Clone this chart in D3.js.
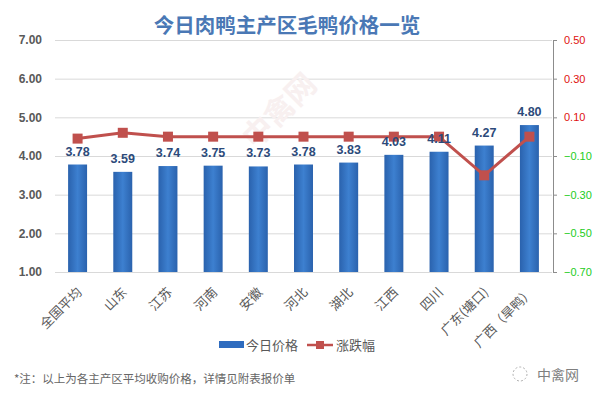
<!DOCTYPE html>
<html>
<head>
<meta charset="utf-8">
<script src="https://cdn.jsdelivr.net/npm/d3@7"></script>
<style>
  body { margin: 0; background: #fff; }
  text { font-family: "Microsoft YaHei", "Noto Sans CJK SC", sans-serif; }
</style>
</head>
<body>
<div id="canvas"></div>
<script>
const regions = ['全国平均','山东','江苏','河南','安徽','河北','湖北','江西','四川','广东(塘口)','广西（旱鸭）']
const prices = [3.78,3.59,3.74,3.75,3.73,3.78,3.83,4.03,4.11,4.27,4.80]
const changes = [-0.01,0.02,0,0,0,0,0,0,0,-0.20,0]
const leftTicks = [1,2,3,4,5,6,7]
const rightTicks = [0.5,0.3,0.1,-0.1,-0.3,-0.5,-0.7]

const width = 597, height = 398
const margin = {top:40, left:55, right:45, bottom:126}

const svg = d3.select('#canvas').append('svg')
  .attr('width', width).attr('height', height)

// gradient for bars
const defs = svg.append('defs')
const grad = defs.append('linearGradient').attr('id','barGrad')
  .attr('x1','0').attr('x2','1').attr('y1','0').attr('y2','0')
grad.append('stop').attr('offset','0%').attr('stop-color','#2a62ad')
grad.append('stop').attr('offset','50%').attr('stop-color','#3d80d0')
grad.append('stop').attr('offset','100%').attr('stop-color','#2a62ad')

const x = d3.scaleBand().domain(regions)
  .range([margin.left, width - margin.right]).paddingInner(0.58).paddingOuter(0.29)

const y = d3.scaleLinear().domain([1,7]).range([height - margin.bottom, margin.top])
const y2 = d3.scaleLinear().domain([-0.7,0.5]).range([height - margin.bottom, margin.top])

// title
svg.append('text').text('今日肉鸭主产区毛鸭价格一览')
  .attr('x', 287).attr('y', 33).attr('text-anchor','middle')
  .attr('font-size', 20.5).attr('font-weight','bold').attr('fill','#4a78b5')

// grid + left axis
const yAxis = svg.append('g')
  .attr('transform', `translate(${margin.left},0)`)
  .call(d3.axisLeft(y).tickValues(leftTicks).tickFormat(d3.format('.2f'))
        .tickSize(-(width - margin.left - margin.right)).tickPadding(13))
yAxis.select('.domain').remove()
yAxis.selectAll('line').attr('stroke','#d9d9d9')
yAxis.selectAll('text').attr('font-size',12).attr('fill','#595959').attr('font-weight','bold')
  .style('font-family','"Liberation Sans", Arial, sans-serif')

// right axis
const rAxis = svg.append('g')
  .attr('transform', `translate(${width - margin.right + 1},0)`)
  .call(d3.axisRight(y2).tickValues(rightTicks).tickFormat(d3.format('.2f')).tickSize(4).tickPadding(7))
rAxis.select('.domain').attr('stroke','#8c8c8c')
rAxis.selectAll('line').attr('stroke','#8c8c8c')
rAxis.selectAll('text').attr('font-size',11)
  .attr('fill', d => d > 0 ? '#e01010' : '#22cc22')
  .style('font-family','"Liberation Sans", Arial, sans-serif')

// faint watermark
svg.append('text').text('中禽网')
  .attr('transform','translate(255,150) rotate(-45)')
  .attr('font-size',30).attr('font-weight','bold').attr('fill','#f8f0f0')

// bars
svg.append('g').selectAll('rect').data(prices).enter()
  .append('rect')
  .attr('x', (d,i) => x(regions[i]))
  .attr('y', d => y(d))
  .attr('width', x.bandwidth())
  .attr('height', d => y(1) - y(d))
  .attr('fill','url(#barGrad)')

// x labels
svg.append('g').selectAll('text').data(regions).enter()
  .append('text').text(d => d)
  .attr('transform', d => `translate(${x(d) + x.bandwidth()/2 + 5},${y(1) + 21}) rotate(-45)`)
  .attr('text-anchor','end').attr('font-size',13).attr('fill','#595959')

// line
const cx = i => x(regions[i]) + x.bandwidth()/2
svg.append('path').datum(changes)
  .attr('d', d3.line().x((d,i) => cx(i)).y(d => y2(d)))
  .attr('fill','none').attr('stroke','#c0504d').attr('stroke-width',3)
svg.append('g').selectAll('rect').data(changes).enter()
  .append('rect')
  .attr('x', (d,i) => cx(i) - 5).attr('y', d => y2(d) - 5)
  .attr('width',10).attr('height',10).attr('fill','#c0504d')

// value labels
svg.append('g').selectAll('text').data(prices).enter()
  .append('text').text(d => d.toFixed(2))
  .attr('x', (d,i) => cx(i)).attr('y', d => y(d) - 9)
  .attr('text-anchor','middle').attr('font-size',12.5).attr('font-weight','bold')
  .attr('fill','#2c4a7a')
  .style('font-family','"Liberation Sans", Arial, sans-serif')

// legend
const lg = svg.append('g').attr('transform','translate(219,345)')
lg.append('rect').attr('x',0).attr('y',-4).attr('width',25).attr('height',7).attr('fill','#2f6cbf')
lg.append('text').text('今日价格').attr('x',27).attr('y',5).attr('font-size',13).attr('fill','#595959')
lg.append('line').attr('x1',88).attr('x2',114).attr('y1',0).attr('y2',0)
  .attr('stroke','#c0504d').attr('stroke-width',2.5)
lg.append('rect').attr('x',97).attr('y',-4).attr('width',8).attr('height',8).attr('fill','#c0504d')
lg.append('text').text('涨跌幅').attr('x',117).attr('y',5).attr('font-size',13).attr('fill','#595959')

// footnote
svg.append('text').text('*注：以上为各主产区平均收购价格，详情见附表报价单')
  .attr('x',14).attr('y',383).attr('font-size',11.5).attr('fill','#666')

// brand watermark
svg.append('circle').attr('cx',520).attr('cy',374).attr('r',7)
  .attr('fill','none').attr('stroke','#b0b0b0').attr('stroke-dasharray','2,2')
svg.append('text').text('中禽网')
  .attr('x',537).attr('y',380).attr('font-size',14).attr('fill','#7f7f7f')
</script>
</body>
</html>
